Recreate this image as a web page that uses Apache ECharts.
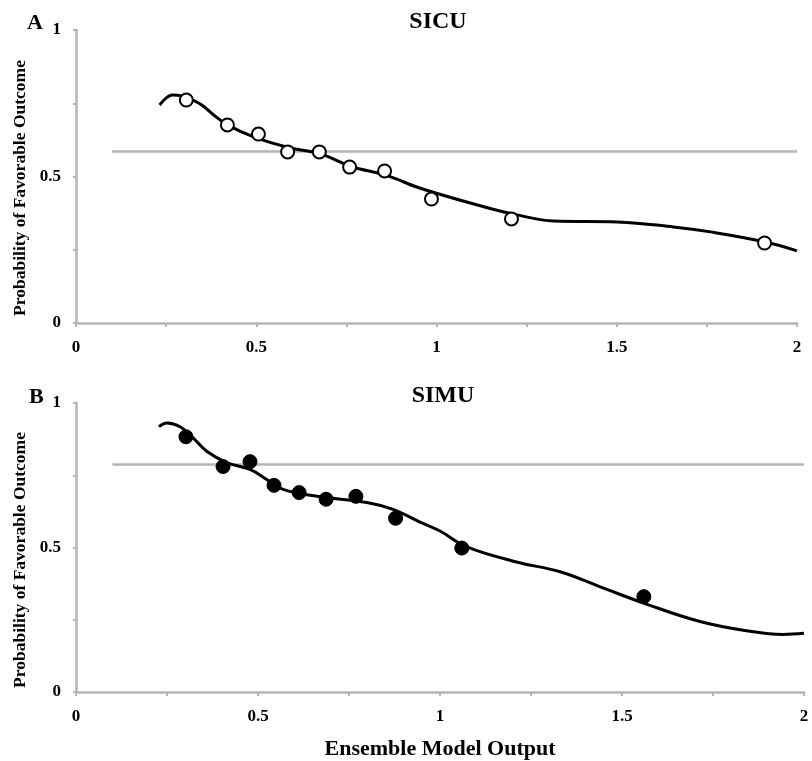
<!DOCTYPE html>
<html>
<head>
<meta charset="utf-8">
<script src="https://cdn.jsdelivr.net/npm/echarts@6/dist/echarts.min.js"></script>
<style>html,body{margin:0;padding:0;background:#fff;}#c{width:812px;height:761px;}</style>
</head>
<body>
<div id="c"></div>
<script>
// Panel A (SICU)
var sicuPoints = [[0.306,0.761],[0.420,0.676],[0.506,0.645],[0.587,0.584],[0.675,0.584],[0.759,0.532],[0.856,0.519],[0.986,0.423],[1.208,0.355],[1.91,0.273]];
var sicuCurve = [[0.232,0.744],[0.268,0.778],[0.29,0.776],[0.345,0.747],[0.382,0.71],[0.42,0.676],[0.493,0.635],[0.586,0.60],[0.678,0.577],[0.761,0.535],[0.863,0.503],[0.955,0.46],[1.131,0.397],[1.224,0.369],[1.325,0.348],[1.502,0.345],[1.657,0.328],[1.76,0.311],[1.91,0.277],[2.0,0.246]];
var sicuRef = [[0.1,0.585],[2,0.585]];
// Panel B (SIMU)
var simuPoints = [[0.302,0.883],[0.404,0.78],[0.478,0.797],[0.544,0.715],[0.613,0.69],[0.687,0.667],[0.769,0.677],[0.878,0.601],[1.06,0.498],[1.56,0.33]];
var simuCurve = [[0.228,0.918],[0.25,0.931],[0.286,0.918],[0.321,0.88],[0.36,0.832],[0.414,0.794],[0.478,0.77],[0.524,0.735],[0.569,0.701],[0.662,0.677],[0.799,0.656],[0.871,0.632],[0.945,0.588],[1.0,0.557],[1.074,0.502],[1.21,0.45],[1.33,0.416],[1.44,0.364],[1.563,0.306],[1.714,0.244],[1.852,0.21],[1.942,0.199],[2.0,0.203]];
var simuRef = [[0.1,0.787],[2,0.787]];
var xTicks = [0, 0.5, 1, 1.5, 2];
var yTicks = [0, 0.5, 1];
var titles = ['SICU', 'SIMU'];
var panelLetters = ['A', 'B'];
var yName = 'Probability of Favorable Outcome';
var xName = 'Ensemble Model Output';

var serif = '"Liberation Serif", "DejaVu Serif", serif';
var gray = '#b5b5b5';
function fmt(ticks){ return function(v){ for (var i=0;i<ticks.length;i++){ if (Math.abs(ticks[i]-v)<1e-9) return String(ticks[i]); } return ''; }; }
function xAxis(idx, withName){
  return {
    type:'value', gridIndex:idx, min:0, max:2, interval:0.25,
    axisLine:{show:true, lineStyle:{color:gray, width:2.5}},
    axisTick:{show:true, length:4, lineStyle:{color:gray, width:2}},
    splitLine:{show:false},
    axisLabel:{formatter:fmt(xTicks), color:'#000', fontFamily:serif, fontWeight:'bold', fontSize:17, margin:16, showMinLabel:true, showMaxLabel:true},
    name: withName ? xName : '', nameLocation:'middle', nameGap:46,
    nameTextStyle:{fontFamily:serif, fontWeight:'bold', fontSize:22, color:'#000'}
  };
}
function yAxis(idx){
  return {
    type:'value', gridIndex:idx, min:0, max:1, interval:0.25,
    axisLine:{show:true, lineStyle:{color:gray, width:2.5}},
    axisTick:{show:true, length:3, inside:false, lineStyle:{color:gray, width:2}},
    splitLine:{show:false},
    axisLabel:{formatter:fmt(yTicks), color:'#000', fontFamily:serif, fontWeight:'bold', fontSize:17, margin:15}
  };
}
function refSeries(idx, data){
  return {type:'line', xAxisIndex:idx, yAxisIndex:idx, data:data, symbol:'none', silent:true,
    lineStyle:{color:gray, width:2.5}, z:1};
}
function curveSeries(idx, data){
  return {type:'line', xAxisIndex:idx, yAxisIndex:idx, data:data, symbol:'none', smooth:0.4, silent:true,
    lineStyle:{color:'#000', width:3}, z:2};
}
function pointSeries(idx, data, filled){
  return {type:'scatter', xAxisIndex:idx, yAxisIndex:idx, data:data, symbol:'circle', symbolSize: filled ? 14 : 13,
    itemStyle: filled ? {color:'#000', borderColor:'#000', borderWidth:1, opacity:1} : {color:'#fff', borderColor:'#000', borderWidth:2, opacity:1},
    z:3};
}
var nameStyle = {text:yName, fontFamily:serif, fontWeight:'bold', fontSize:17.5, fill:'#000', textAlign:'center', textVerticalAlign:'middle'};
var chart = echarts.init(document.getElementById('c'), null, {renderer:'canvas', width:812, height:761});
chart.setOption({
  backgroundColor:'#fff',
  animation:false,
  title:[
    {text:titles[0], left:433, top:5, textAlign:'center', textStyle:{fontFamily:serif, fontWeight:'bold', fontSize:24, color:'#000'}},
    {text:titles[1], left:438, top:379, textAlign:'center', textStyle:{fontFamily:serif, fontWeight:'bold', fontSize:24, color:'#000'}},
    {text:panelLetters[0], left:22, top:7, textStyle:{fontFamily:serif, fontWeight:'bold', fontSize:22, color:'#000'}},
    {text:panelLetters[1], left:24, top:381, textStyle:{fontFamily:serif, fontWeight:'bold', fontSize:22, color:'#000'}}
  ],
  graphic:[
    {type:'text', x:20, y:188, rotation:Math.PI/2, style:nameStyle},
    {type:'text', x:20, y:560, rotation:Math.PI/2, style:nameStyle}
  ],
  grid:[
    {left:76, width:721, top:30, height:293},
    {left:76, width:728, top:403, height:291}
  ],
  xAxis:[xAxis(0,false), xAxis(1,true)],
  yAxis:[yAxis(0), yAxis(1)],
  series:[
    refSeries(0, sicuRef), curveSeries(0, sicuCurve), pointSeries(0, sicuPoints, false),
    refSeries(1, simuRef), curveSeries(1, simuCurve), pointSeries(1, simuPoints, true)
  ]
});
</script>
</body>
</html>
